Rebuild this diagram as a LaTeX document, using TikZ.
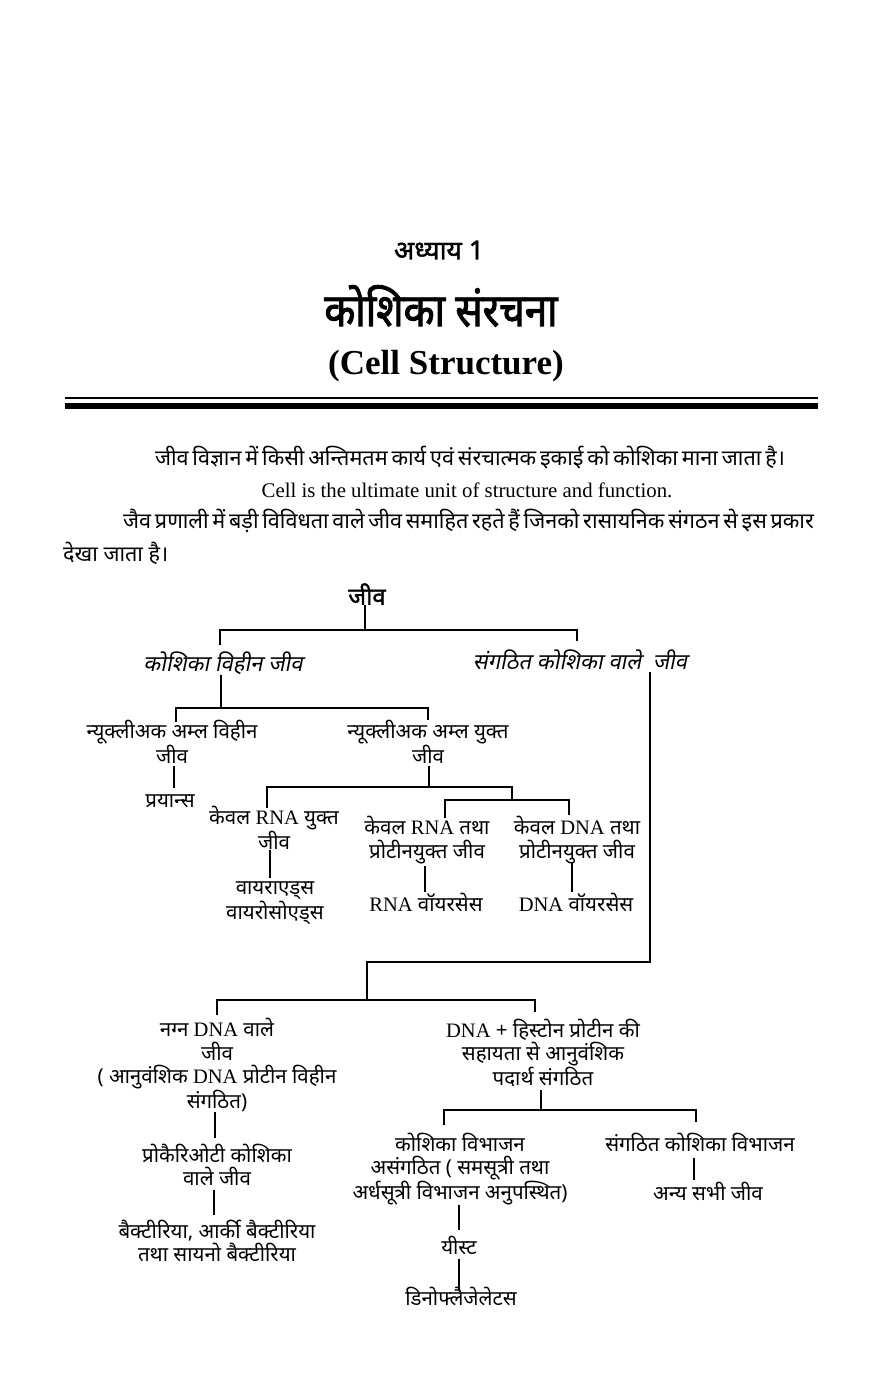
\documentclass[tikz,border=0pt]{standalone}
\usepackage{fontspec}
\setmainfont{Liberation Serif}
\newfontfamily\devn[Script=Devanagari]{Noto Sans}
\newfontfamily\devb[Script=Devanagari,FakeBold=1.5]{Noto Sans}
\newfontfamily\devtb[Script=Devanagari,FakeStretch=0.88,FakeBold=2]{Noto Sans}
\newfontfamily\devit[Script=Devanagari,FakeSlant=0.2]{Noto Sans}
\newcommand\latn[1]{{\rmfamily #1}}
\begin{document}
\begin{tikzpicture}[x=1pt,y=-1pt,
  ln/.style={line width=1.5pt},
  t/.style={align=center,inner sep=0pt,font=\devn\fontsize{20.5}{23.5}\selectfont},
  ti/.style={align=center,inner sep=0pt,font=\devit\fontsize{22}{24}\selectfont},
  para/.style={inner sep=0pt,font=\devn\fontsize{21.6}{24}\selectfont}]
\fill[white] (0,0) rectangle (889,1382);
\useasboundingbox (0,0) rectangle (889,1382);
% header
\node[inner sep=0pt,font=\devb\fontsize{26.5}{30}\selectfont] (ch) at (439,250) {अध्याय 1};
\node[inner sep=0pt,font=\devtb\fontsize{45.8}{50}\selectfont] (title) at (441,306) {कोशिका संरचना};
\node[inner sep=0pt,font=\bfseries\fontsize{35}{40}\selectfont] (etitle) at (446,366) {(Cell Structure)};
\draw[line width=1.5pt] (65,398) -- (818,398);
\draw[line width=6pt] (65,406) -- (818,406);
% paragraph
\node[para] (p1) at (470,458) {\makebox[630pt][s]{जीव विज्ञान में किसी अन्तिमतम कार्य एवं संरचात्मक इकाई को कोशिका माना जाता है।}};
\node[inner sep=0pt,font=\fontsize{20.8}{24}\selectfont] (p2) at (467,490) {Cell is the ultimate unit of structure and function.};
\node[para,anchor=west] (p3) at (123,521) {\makebox[690pt][s]{जैव प्रणाली में बड़ी विविधता वाले जीव समाहित रहते हैं जिनको रासायनिक संगठन से इस प्रकार}};
\node[para,anchor=west] (p4) at (63,553) {देखा जाता है।};
% tree nodes
\node[inner sep=0pt,font=\devb\fontsize{24}{28}\selectfont] (n0) at (367,594) {जीव};
\node[ti] (n1) at (223,663) {कोशिका विहीन जीव};
\node[ti] (n2) at (580,660) {संगठित कोशिका वाले\ \ जीव};
\node[t] (n11) at (172,742) {न्यूक्लीअक अम्ल विहीन\\जीव};
\node[t] (n12) at (428,742) {न्यूक्लीअक अम्ल युक्त\\जीव};
\node[t] (n111) at (170,801) {प्रयान्स};
\node[t] (n121) at (274,828) {केवल \latn{RNA} युक्त\\जीव};
\node[t] (n122) at (427,840) {केवल \latn{RNA} तथा\\प्रोटीनयुक्त जीव};
\node[t] (n123) at (577,840) {केवल \latn{DNA} तथा\\प्रोटीनयुक्त जीव};
\node[t] (n1211) at (275,903) {वायराएड्स\\वायरोसोएड्स};
\node[t] (n1221) at (426,902) {\latn{RNA} वॉयरसेस};
\node[t] (n1231) at (576,902) {\latn{DNA} वॉयरसेस};
\node[t] (n21) at (217,1065) {नग्न \latn{DNA} वाले\\जीव\\( आनुवंशिक \latn{DNA} प्रोटीन विहीन\\संगठित)};
\node[t] (n22) at (543,1053) {\latn{DNA} + हिस्टोन प्रोटीन की\\सहायता से आनुवंशिक\\पदार्थ संगठित};
\node[t] (n211) at (217,1165) {प्रोकैरिओटी कोशिका\\वाले जीव};
\node[t] (n2111) at (217,1241) {बैक्टीरिया, आर्की बैक्टीरिया\\तथा सायनो बैक्टीरिया};
\node[t] (n221) at (460,1169) {कोशिका विभाजन\\असंगठित ( समसूत्री तथा\\अर्धसूत्री विभाजन अनुपस्थित)};
\node[t] (n222) at (700,1142) {संगठित कोशिका विभाजन};
\node[t] (n2211) at (459,1245) {यीस्ट};
\node[t] (n22111) at (461,1296) {डिनोफ्लैजेलेटस};
\node[t] (n2221) at (708,1191) {अन्य सभी जीव};
% junction coordinates
\coordinate (j0) at (365,630);
\coordinate (j0l) at (220,630);
\coordinate (j0r) at (577,630);
\coordinate (j1) at (221,708);
\coordinate (j1l) at (176,708);
\coordinate (j1r) at (428,708);
\coordinate (j12) at (429,787);
\coordinate (j12l) at (267,787);
\coordinate (j12r) at (512,787);
\coordinate (j12b) at (512,800);
\coordinate (j12bl) at (445,800);
\coordinate (j12br) at (569,800);
\coordinate (j2) at (650,962);
\coordinate (j2l) at (367,962);
\coordinate (j3) at (367,1000);
\coordinate (j3l) at (217,1000);
\coordinate (j3r) at (535,1000);
\coordinate (j22) at (541,1110);
\coordinate (j22l) at (444,1110);
\coordinate (j22r) at (696,1110);
% connectors
\draw[ln] (n0.south -| j0) -- (j0);
\draw[ln] (j0l) ++(0,15) -- (j0l) -- (j0r) -- ++(0,11);
\draw[ln] (n1.south -| j1) -- (j1);
\draw[ln] (j1l) ++(0,14) -- (j1l) -- (j1r) -- ++(0,12);
\draw[ln] (n11.south -| 174,0) ++(0,2) -- ++(0,22);
\draw[ln] (n12.south -| j12) ++(0,2) -- (j12);
\draw[ln] (j12l) ++(0,21) -- (j12l) -- (j12r) -- (j12b);
\draw[ln] (j12bl) ++(0,18) -- (j12bl) -- (j12br) -- ++(0,15);
\draw[ln] (270,850) -- (270,878);
\draw[ln] (425,866) -- (425,892);
\draw[ln] (572,863) -- (572,892);
\draw[ln] (n2.south -| j2) ++(0,2) -- (j2) -- (j2l) -- (j3);
\draw[ln] (j3l) ++(0,15) -- (j3l) -- (j3r) -- ++(0,12);
\draw[ln] (215,1112) -- (215,1138);
\draw[ln] (214,1190) -- (214,1215);
\draw[ln] (541,1090) -- (j22);
\draw[ln] (j22l) ++(0,15) -- (j22l) -- (j22r) -- ++(0,12);
\draw[ln] (459,1205) -- (459,1230);
\draw[ln] (459,1259) -- (459,1290);
\draw[ln] (694,1158) -- (694,1180);
\end{tikzpicture}
\end{document}
